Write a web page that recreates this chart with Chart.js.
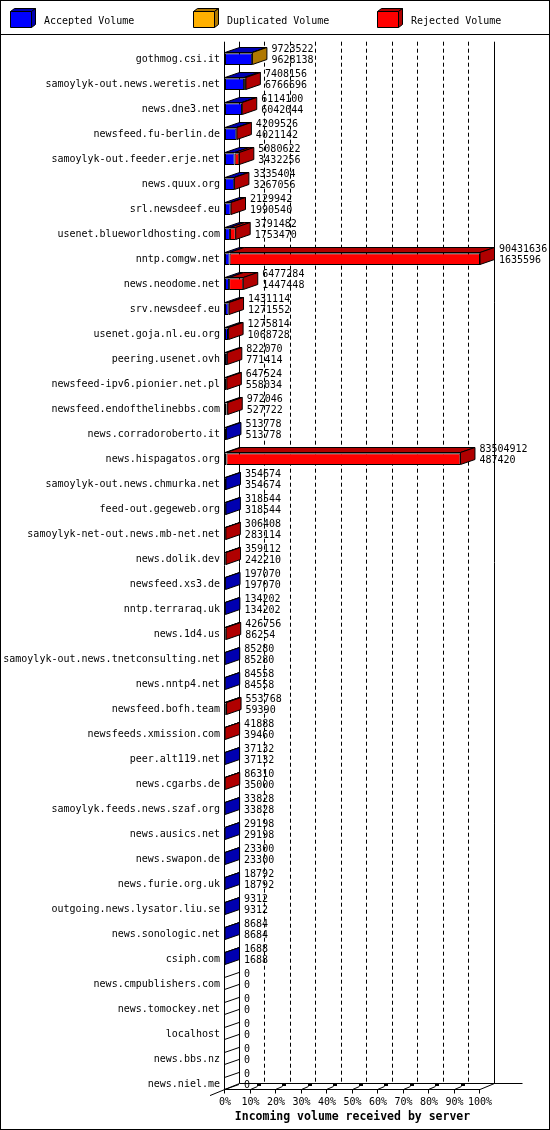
<!DOCTYPE html>
<html>
<head>
<meta charset="utf-8">
<title>Incoming volume received by server</title>
<script src="https://cdn.jsdelivr.net/npm/chart.js@4.4.1/dist/chart.umd.min.js"></script>
<style>
  html, body { margin: 0; padding: 0; background: #fff; }
  canvas { display: block; }
</style>
</head>
<body>
<canvas id="chart" width="550" height="1130"></canvas>
<script>
const servers = [
  "gothmog.csi.it", "samoylyk-out.news.weretis.net", "news.dne3.net", "newsfeed.fu-berlin.de",
  "samoylyk-out.feeder.erje.net", "news.quux.org", "srl.newsdeef.eu", "usenet.blueworldhosting.com",
  "nntp.comgw.net", "news.neodome.net", "srv.newsdeef.eu", "usenet.goja.nl.eu.org",
  "peering.usenet.ovh", "newsfeed-ipv6.pionier.net.pl", "newsfeed.endofthelinebbs.com", "news.corradoroberto.it",
  "news.hispagatos.org", "samoylyk-out.news.chmurka.net", "feed-out.gegeweb.org", "samoylyk-net-out.news.mb-net.net",
  "news.dolik.dev", "newsfeed.xs3.de", "nntp.terraraq.uk", "news.1d4.us",
  "samoylyk-out.news.tnetconsulting.net", "news.nntp4.net", "newsfeed.bofh.team", "newsfeeds.xmission.com",
  "peer.alt119.net", "news.cgarbs.de", "samoylyk.feeds.news.szaf.org", "news.ausics.net",
  "news.swapon.de", "news.furie.org.uk", "outgoing.news.lysator.liu.se", "news.sonologic.net",
  "csiph.com", "news.cmpublishers.com", "news.tomockey.net", "localhost",
  "news.bbs.nz", "news.niel.me"
];

// upper number next to each bar
const totalVolume = [
  9723522, 7408156, 6114100, 4209526, 5080622, 3335404, 2129942, 3791482,
  90431636, 6477284, 1431114, 1275814, 822070, 647524, 972046, 513778,
  83504912, 354674, 318544, 306408, 359112, 197070, 134202, 426756,
  85280, 84558, 553768, 41888, 37132, 86310, 33828, 29198,
  23300, 18792, 9312, 8684, 1688, 0, 0, 0,
  0, 0
];

// lower number next to each bar
const acceptedVolume = [
  9628138, 6766696, 6042044, 4021142, 3432256, 3267056, 1990540, 1753470,
  1635596, 1447448, 1271552, 1068728, 771414, 558034, 527722, 513778,
  487420, 354674, 318544, 283114, 242210, 197070, 134202, 86254,
  85280, 84558, 59390, 39460, 37132, 35000, 33828, 29198,
  23300, 18792, 9312, 8684, 1688, 0, 0, 0,
  0, 0
];

const duplicatedVolume = [
  95384, 0, 0, 0, 0, 0, 0, 0,
  0, 0, 0, 0, 0, 0, 0, 0,
  0, 0, 0, 0, 0, 0, 0, 0,
  0, 0, 0, 0, 0, 0, 0, 0,
  0, 0, 0, 0, 0, 0, 0, 0,
  0, 0
];

const rejectedVolume = [
  0, 641460, 72056, 188384, 1648366, 68348, 139402, 2038012,
  88796040, 5029836, 159562, 207086, 50656, 89490, 444324, 0,
  83017492, 0, 0, 23294, 116902, 0, 0, 340502,
  0, 0, 494378, 2428, 0, 51310, 0, 0,
  0, 0, 0, 0, 0, 0, 0, 0,
  0, 0
];

const FONT = "'DejaVu Sans Mono', 'Liberation Mono', monospace";
const FRONT = ["#0000ff", "#ffb000", "#ff0000"];
const SHADE = ["#0000b0", "#b07800", "#b00000"];
const DX = 14.5, DY = 5, FLOOR_DY = 6;

// bars are drawn as a percentage of the largest server total
const maxVolume = Math.max(...totalVolume);
const pct = arr => arr.map(v => v / maxVolume * 100);

Chart.defaults.font.family = FONT;
Chart.defaults.font.size = 10;
Chart.defaults.color = "#000";

const px = v => Math.round(v) - 0.5;

function line(ctx, x1, y1, x2, y2) {
  ctx.beginPath();
  ctx.moveTo(x1, y1);
  ctx.lineTo(x2, y2);
  ctx.stroke();
}

function face(ctx, pts, fill) {
  ctx.beginPath();
  ctx.moveTo(pts[0][0], pts[0][1]);
  for (let k = 1; k < pts.length; k++) ctx.lineTo(pts[k][0], pts[k][1]);
  ctx.closePath();
  ctx.fillStyle = fill;
  ctx.fill();
  ctx.stroke();
}

// back wall, dashed grid and floor of the 3d box
const walls = {
  id: "walls",
  beforeDatasetsDraw(chart) {
    const { ctx, chartArea, scales: { x } } = chart;
    const last = chart.getDatasetMeta(0).data[servers.length - 1];
    const front = last.y + last.height / 2;
    const back = front - FLOOR_DY;
    const top = chartArea.top - 5;
    const x0 = x.getPixelForValue(0), x100 = x.getPixelForValue(100);

    ctx.save();
    ctx.strokeStyle = "#000";
    ctx.lineWidth = 1;

    ctx.setLineDash([4, 3]);
    for (let p = 10; p < 100; p += 10) {
      const gx = px(x.getPixelForValue(p) + DX);
      line(ctx, gx, top, gx, back);
    }
    ctx.setLineDash([]);

    line(ctx, px(x0), top, px(x0), px(front));
    line(ctx, px(x0 + DX), top, px(x0 + DX), px(back));
    line(ctx, px(x100 + DX), top, px(x100 + DX), px(back));

    line(ctx, x0 + DX, px(back), x0 - 15, front + 5.5);
    line(ctx, x0, px(front), x100, px(front));
    line(ctx, x100, px(front), x100 + DX, px(back));
    line(ctx, x0 + DX, px(back), x100 + DX + 28, px(back));

    ctx.fillStyle = "#000";
    for (let p = 0; p <= 100; p += 10) {
      const tx = px(x.getPixelForValue(p));
      line(ctx, tx, px(front), tx, px(front) + 4);
      if (p > 0 && p < 100) {
        line(ctx, tx, px(front), tx + 7, px(front) - 3);
        ctx.fillRect(Math.round(tx + 6), Math.round(back), 4, 2);
      }
    }
    ctx.restore();
  },

  // top and side faces, plus the two numbers for each server
  afterDatasetsDraw(chart) {
    const { ctx, scales: { x } } = chart;
    const x0 = x.getPixelForValue(0);
    const metas = chart.data.datasets.map((d, k) => chart.getDatasetMeta(k));

    ctx.save();
    ctx.strokeStyle = "#000";
    ctx.lineWidth = 1;
    servers.forEach((s, i) => {
      const el0 = metas[0].data[i];
      const yTop = px(el0.y - el0.height / 2);
      const yBot = px(el0.y + el0.height / 2);
      let lastSeg = -1, endX = x0;
      metas.forEach((m, k) => {
        if (chart.data.datasets[k].data[i] <= 0) return;
        const el = m.data[i];
        face(ctx, [[el.base, yTop], [el.x, yTop], [el.x + DX, yTop - DY], [el.base + DX, yTop - DY]], SHADE[k]);
        lastSeg = k;
        endX = el.x;
      });
      if (lastSeg >= 0) {
        face(ctx, [[endX, yTop], [endX + DX, yTop - DY], [endX + DX, yBot - DY], [endX, yBot]], SHADE[lastSeg]);
      } else {
        line(ctx, px(x0), yTop, px(x0) + DX, yTop - DY);
        line(ctx, px(x0), yBot, px(x0) + DX, yBot - DY);
      }

      ctx.fillStyle = "#000";
      ctx.font = "10px " + FONT;
      ctx.textAlign = "left";
      ctx.textBaseline = "middle";
      const lx = endX + DX + 4.5;
      ctx.fillText(String(totalVolume[i]), lx, el0.y - 9.5);
      ctx.fillText(String(acceptedVolume[i]), lx, el0.y + 1.5);
    });
    ctx.restore();
  },

  // frame and legend band
  afterDraw(chart) {
    const { ctx, width, height } = chart;
    ctx.save();
    ctx.strokeStyle = "#000";
    ctx.lineWidth = 1;
    ctx.strokeRect(0.5, 0.5, width - 1, height - 1);
    line(ctx, 0, 34.5, width, 34.5);

    const slots = [10, 193, 377];
    chart.data.datasets.forEach((ds, k) => {
      const bx = slots[k] + 0.5, by = 11.5;
      face(ctx, [[bx, by], [bx + 4, by - 3], [bx + 25, by - 3], [bx + 21, by]], SHADE[k]);
      face(ctx, [[bx + 21, by], [bx + 25, by - 3], [bx + 25, by + 13], [bx + 21, by + 16]], SHADE[k]);
      face(ctx, [[bx, by], [bx + 21, by], [bx + 21, by + 16], [bx, by + 16]], FRONT[k]);
      ctx.fillStyle = "#000";
      ctx.font = "10px " + FONT;
      ctx.textAlign = "left";
      ctx.textBaseline = "middle";
      ctx.fillText(ds.label, slots[k] + 34, 21);
    });
    ctx.restore();
  }
};

const bar = (label, values, k) => ({
  label,
  data: pct(values),
  backgroundColor: FRONT[k],
  borderColor: "#000",
  borderWidth: 1,
  borderSkipped: false,
  categoryPercentage: 1,
  barPercentage: 0.47
});

new Chart(document.getElementById("chart"), {
  type: "bar",
  data: {
    labels: servers,
    datasets: [
      bar("Accepted Volume", acceptedVolume, 0),
      bar("Duplicated Volume", duplicatedVolume, 1),
      bar("Rejected Volume", rejectedVolume, 2)
    ]
  },
  plugins: [walls],
  options: {
    indexAxis: "y",
    responsive: false,
    devicePixelRatio: 1,
    animation: false,
    layout: { padding: { top: 46.7, right: 70, bottom: 0, left: 0 } },
    plugins: {
      legend: { display: false },
      tooltip: { enabled: false }
    },
    scales: {
      x: {
        type: "linear",
        stacked: true,
        min: 0,
        max: 100,
        grid: { display: false, drawTicks: false },
        border: { display: false },
        ticks: {
          stepSize: 10, padding: 0, autoSkip: false,
          maxRotation: 0, minRotation: 0,
          callback: v => v + "%"
        },
        title: {
          display: true,
          text: "Incoming volume received by server",
          font: { size: 11.5, weight: "bold" },
          padding: { top: 0, bottom: 6 }
        },
        afterFit: s => { s.height = 33.3; }
      },
      y: {
        stacked: true,
        grid: { display: false, drawTicks: false },
        border: { display: false },
        ticks: { autoSkip: false, padding: 5 },
        afterFit: s => { s.width = 225; }
      }
    }
  }
});
</script>
</body>
</html>
